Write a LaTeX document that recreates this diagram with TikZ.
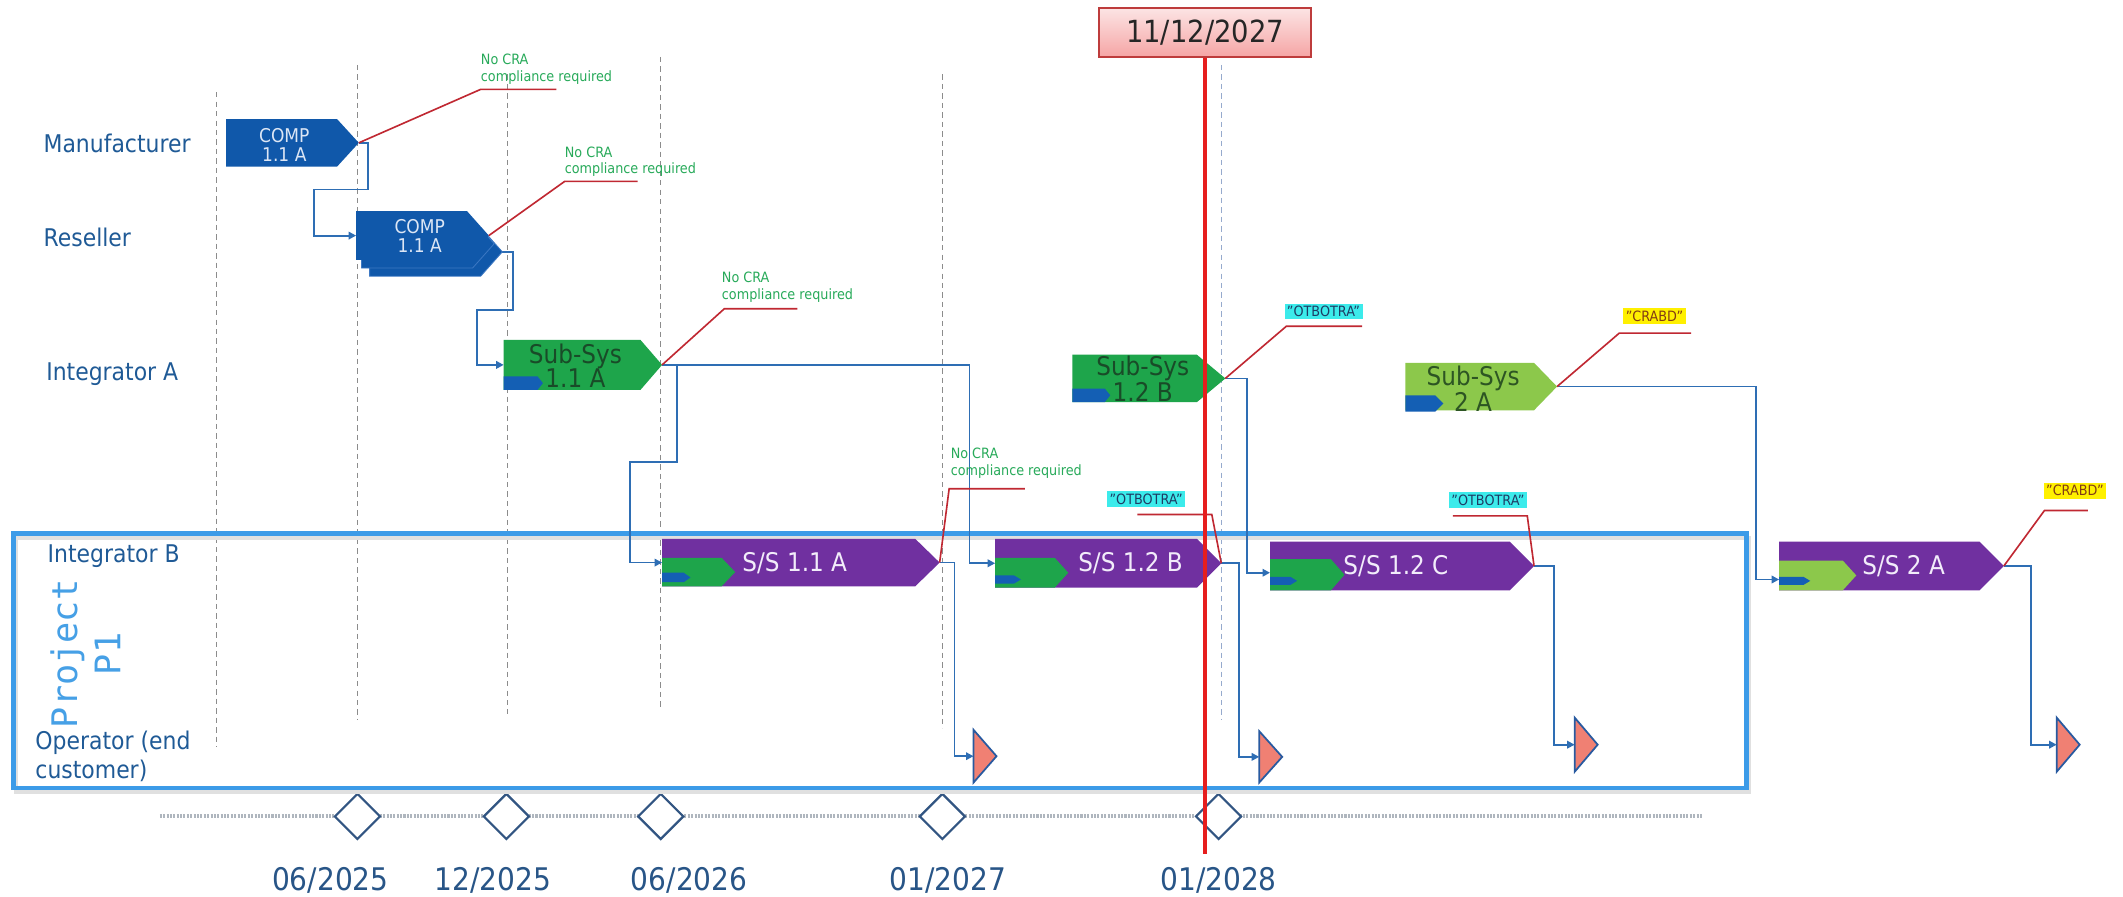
\documentclass[tikz,border=0pt]{standalone}
\usepackage{fontspec}
\setmainfont{DejaVu Sans}[FakeStretch=0.9]
\newfontfamily\monof{DejaVu Sans Mono}
\usetikzlibrary{arrows.meta,shapes.geometric}
\definecolor{rowblue}{RGB}{31,90,150}
\definecolor{dateblue}{RGB}{40,85,135}
\definecolor{gridgray}{RGB}{140,140,140}
\definecolor{gridblue}{RGB}{150,170,205}
\definecolor{compblue}{RGB}{16,88,170}
\definecolor{compedge}{RGB}{60,120,195}
\definecolor{comptxt}{RGB}{220,230,245}
\definecolor{subgreen}{RGB}{30,165,75}
\definecolor{subtxt}{RGB}{25,75,40}
\definecolor{lightgreen}{RGB}{140,200,75}
\definecolor{lighttxt}{RGB}{45,85,35}
\definecolor{sspurple}{RGB}{112,48,160}
\definecolor{sstxt}{RGB}{242,236,250}
\definecolor{tabblue}{RGB}{20,95,180}
\definecolor{connblue}{RGB}{46,110,180}
\definecolor{calred}{RGB}{192,40,50}
\definecolor{notegreen}{RGB}{40,170,90}
\definecolor{projblue}{RGB}{60,155,232}
\definecolor{projlbl}{RGB}{70,160,230}
\definecolor{opfill}{RGB}{240,128,115}
\definecolor{opline}{RGB}{40,90,160}
\definecolor{msblue}{RGB}{50,85,130}
\definecolor{tlgray}{RGB}{175,182,190}
\definecolor{dbtop}{RGB}{252,228,228}
\definecolor{dbbot}{RGB}{245,165,165}
\definecolor{dbline}{RGB}{190,60,60}
\definecolor{redmark}{RGB}{230,30,30}
\definecolor{tagcyan}{RGB}{60,235,235}
\definecolor{tagyellow}{RGB}{255,240,0}
\definecolor{tagtxt}{RGB}{30,60,100}
\definecolor{tagtxtb}{RGB}{130,60,20}
\newcommand\mypent[6]{\fill[#1] (#2,#3) -- (#4,#3) -- (#5,{(#3+#6)/2}) -- (#4,#6) -- (#2,#6) -- cycle;}
\begin{document}
\begin{tikzpicture}[x=1pt,y=-1pt,
  rowlbl/.style={anchor=west, inner sep=0, text=rowblue, font=\fontsize{18}{21}\selectfont},
  datelbl/.style={inner sep=0, text=dateblue, font=\fontsize{23}{26}\selectfont},
  gridline/.style={draw=gridgray, line width=0.8, dash pattern=on 4pt off 3pt},
  conn/.style={draw=connblue, line width=1.35, -{Triangle[length=5.5pt,width=5.5pt]}},
  callline/.style={draw=calred, line width=1.2},
  note/.style={anchor=north west, inner sep=0, align=left, text=notegreen, font=\fontsize{10.5}{12.5}\selectfont},
  tag/.style={inner sep=1.8pt, font=\fontsize{10.5}{12}\selectfont},
  comptext/.style={align=center, inner sep=0, text=comptxt, font=\fontsize{14}{14}\selectfont},
  subtext/.style={align=center, inner sep=0, text=subtxt, font=\fontsize{19}{18}\selectfont},
  sstext/.style={inner sep=0, text=sstxt, font=\fontsize{19}{22}\selectfont},
  ms/.style={diamond, draw=msblue, fill=white, line width=1.6, minimum width=34pt, minimum height=34pt, inner sep=0},
  opshape/.style={fill=opfill, draw=opline, line width=1.3, line join=miter}]
\useasboundingbox (0,0) rectangle (1568,662);
\fill[white] (0,0) rectangle (1568,662);

% grid lines
\draw[gridline] (160,68) -- (160,552);
\draw[gridline] (264,48) -- (264,532);
\draw[gridline] (375,55) -- (375,527);
\draw[gridline] (488,42) -- (488,524);
\draw[gridline] (696,55) -- (696,538);
\draw[gridline, draw=gridblue] (902,48) -- (902,532);

% timeline
\draw[tlgray, line width=3, dash pattern=on 1.5pt off 1pt] (118,603) -- (1258,603);
\node[ms] (d1) at (264,603) {};
\node[ms] (d2) at (374,603) {};
\node[ms] (d3) at (488,603) {};
\node[ms] (d4) at (696,603) {};
\node[ms] (d5) at (900,603) {};
\node[datelbl] (l1) at (244,650) {06/2025};
\node[datelbl] (l2) at (364,650) {12/2025};
\node[datelbl] (l3) at (509,650) {06/2026};
\node[datelbl] (l4) at (700,650) {01/2027};
\node[datelbl] (l5) at (900,650) {01/2028};

% project box
\draw[black!12, line width=3] (12,397) rectangle (1292,585);
\draw[projblue, line width=3.2] (10,394) rectangle (1290,582);
\node[rotate=90, align=center, text=projlbl, font=\monof\fontsize{26}{32}\selectfont, inner sep=0] (proj) at (63,483) {Project\\P1};

% row labels
\node[rowlbl] (rmfr) at (32,106) {Manufacturer};
\node[rowlbl] (rres) at (32,175) {Reseller};
\node[rowlbl] (rinta) at (34,276) {Integrator A};
\node[rowlbl] (rintb) at (35,411) {Integrator B};
\node[rowlbl, align=left] (rop) at (26,558.5) {Operator (end\\customer)};

% anchor coordinates
\coordinate (mfr-tip) at (265,105.5);
\coordinate (res-w) at (263,174);
\coordinate (res-ftip) at (361,174);
\coordinate (res-tip) at (371,186);
\coordinate (sa11-w) at (372,269.5);
\coordinate (sa11-tip) at (489,269.5);
\coordinate (sa12-tip) at (905,279.5);
\coordinate (sa2-tip) at (1150,285.5);
\coordinate (ss11-w) at (489,415.5);
\coordinate (ss11-tip) at (694,415.5);
\coordinate (ss12b-w) at (735,416);
\coordinate (ss12b-tip) at (902,416);
\coordinate (ss12c-in) at (938,423);
\coordinate (ss12c-tip) at (1133,418);
\coordinate (ss2-in) at (1314,428);
\coordinate (ss2-tip) at (1480,418);
\coordinate (op1-w) at (719,558.5);
\coordinate (op2-w) at (930,559);
\coordinate (op3-w) at (1163,550);
\coordinate (op4-w) at (1519,550);

% connectors
\draw[conn] (mfr-tip) -| (272,140) -| (232,174) -- (res-w);
\draw[conn] (res-tip) -| (379,229) -| (352,269.5) -- (sa11-w);
\draw[conn] (sa11-tip) -| (500,341) -| (465,415.5) -- (ss11-w);
\draw[conn] (sa11-tip) -| (716,416) -- (ss12b-w);
\draw[conn] (sa12-tip) -| (921,423) -- (ss12c-in);
\draw[conn] (sa2-tip) -| (1297,428) -- (ss2-in);
\draw[conn] (ss11-tip) -| (705,558.5) -- (op1-w);
\draw[conn] (ss12b-tip) -| (915,559) -- (op2-w);
\draw[conn] (ss12c-tip) -| (1148,550) -- (op3-w);
\draw[conn] (ss2-tip) -| (1500,550) -- (op4-w);

% operator marks
\draw[opshape] (719,539) -- (736,558.5) -- (719,578) -- cycle;
\draw[opshape] (930,540) -- (947,559) -- (930,578) -- cycle;
\draw[opshape] (1163,530) -- (1180,550) -- (1163,570) -- cycle;
\draw[opshape] (1519,530) -- (1536,550) -- (1519,570) -- cycle;

% COMP manufacturer
\mypent{fill=compblue}{167}{88}{249}{265}{123}
\node[comptext] (mfr) at (210,107) {COMP\\1.1 A};
% COMP reseller (stack)
\mypent{fill=compblue, draw=compedge, line width=0.6}{273}{168}{355}{371}{204}
\mypent{fill=compblue, draw=compedge, line width=0.6}{267}{162}{349}{365}{198}
\mypent{fill=compblue}{263}{156}{345}{361}{192}
\node[comptext] (res) at (310,174) {COMP\\1.1 A};

% Sub-Sys 1.1 A
\mypent{fill=subgreen}{372}{251}{473}{489}{288}
\mypent{fill=tabblue}{372}{278}{397}{401}{288}
\node[subtext] (sa11) at (425,270) {Sub-Sys\\1.1 A};
% Sub-Sys 1.2 B
\mypent{fill=subgreen}{792}{262}{884}{905}{297}
\mypent{fill=tabblue}{792}{287}{816}{820}{297}
\node[subtext] (sa12) at (844,280) {Sub-Sys\\1.2 B};
% Sub-Sys 2 A
\mypent{fill=lightgreen}{1038}{268}{1133}{1150}{303}
\mypent{fill=tabblue}{1038}{292}{1060}{1066}{304}
\node[subtext, text=lighttxt] (sa2) at (1088,287) {Sub-Sys\\2 A};

% S/S 1.1 A
\mypent{fill=sspurple}{489}{398}{676}{694}{433}
\mypent{fill=subgreen}{489}{412}{533}{543}{433}
\mypent{fill=tabblue}{489}{423}{505}{510}{430}
\node[sstext] (ss11) at (587,416) {S/S 1.1 A};
% S/S 1.2 B
\mypent{fill=sspurple}{735}{398}{884}{902}{434}
\mypent{fill=subgreen}{735}{412}{779}{789}{434}
\mypent{fill=tabblue}{735}{425}{749}{754}{431}
\node[sstext] (ss12b) at (835,416) {S/S 1.2 B};
% S/S 1.2 C
\mypent{fill=sspurple}{938}{400}{1115}{1133}{436}
\mypent{fill=subgreen}{938}{413}{983}{993}{436}
\mypent{fill=tabblue}{938}{426}{953}{958}{432}
\node[sstext] (ss12c) at (1031,418) {S/S 1.2 C};
% S/S 2 A
\mypent{fill=sspurple}{1314}{400}{1462}{1480}{436}
\mypent{fill=lightgreen}{1314}{414}{1361}{1371}{436}
\mypent{fill=tabblue}{1314}{426}{1332}{1337}{432}
\node[sstext] (ss2) at (1406,418) {S/S 2 A};

% callouts
\draw[callline] (mfr-tip) -- (355,66) -- (411,66);
\draw[callline] (res-ftip) -- (417,134) -- (471,134);
\draw[callline] (sa11-tip) -- (535,228) -- (589,228);
\draw[callline] (ss11-tip) -- (701,361) -- (757,361);
\draw[callline] (sa12-tip) -- (950,241) -- (1006,241);
\draw[callline] (840,380) -- (895,380) -- (ss12b-tip);
\draw[callline] (1073,381) -- (1128,381) -- (ss12c-tip);
\draw[callline] (sa2-tip) -- (1196,246) -- (1249,246);
\draw[callline] (ss2-tip) -- (1510,377) -- (1542,377);

\node[note] (n1) at (355,40) {No CRA\\compliance required};
\node[note] (n2) at (417,108) {No CRA\\compliance required};
\node[note] (n3) at (533,201) {No CRA\\compliance required};
\node[note] (n4) at (702,331) {No CRA\\compliance required};

\node[tag, fill=tagcyan, text=tagtxt] (t1) at (977.5,230) {"OTBOTRA"};
\node[tag, fill=tagcyan, text=tagtxt] (t2) at (846.5,368.5) {"OTBOTRA"};
\node[tag, fill=tagcyan, text=tagtxt] (t3) at (1099,369.5) {"OTBOTRA"};
\node[tag, fill=tagyellow, text=tagtxtb] (t4) at (1222,233.5) {"CRABD"};
\node[tag, fill=tagyellow, text=tagtxtb] (t5) at (1532.5,362.5) {"CRABD"};

% date marker
\node[draw=dbline, line width=1.4, top color=dbtop, bottom color=dbbot, minimum width=156pt, minimum height=36pt, inner sep=0, font=\fontsize{22.5}{26}\selectfont, text=black!85] (db) at (890,24) {11/12/2027};
\coordinate (redend) at (890,631);
\draw[redmark, line width=3.2] (db.south) -- (redend);
\end{tikzpicture}
\end{document}
